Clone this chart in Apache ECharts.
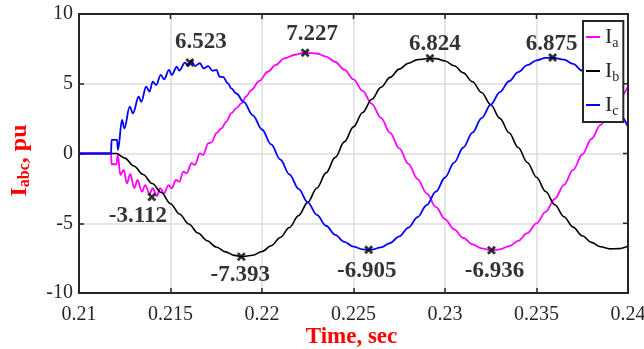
<!DOCTYPE html>
<html>
<head>
<meta charset="utf-8">
<script src="https://cdn.jsdelivr.net/npm/echarts@6/dist/echarts.min.js"></script>
<style>html,body{margin:0;padding:0;background:#fff}#c{width:644px;height:349px}</style>
</head>
<body>
<div id="c"></div>
<script>
const xTicks = [0.21, 0.215, 0.22, 0.225, 0.23, 0.235, 0.24];
const yTicks = [-10, -5, 0, 5, 10];
const seriesNames = ['Ia', 'Ib', 'Ic'];
const xName = 'Time, sec';

const iaData = [[0.21,0],[0.21175,0],[0.21178,-0.77],[0.21204,-0.77],[0.21212,-0.1],[0.21226,-1.54],[0.21244,-1.18],[0.21262,-2.14],[0.2128,-1.47],[0.21302,-2.49],[0.2132,-1.9],[0.21344,-2.74],[0.21362,-2.26],[0.21385,-2.9],[0.21403,-2.49],[0.21425,-3.05],[0.21443,-2.49],[0.21465,-2.85],[0.21489,-2.26],[0.21507,-2.49],[0.2153,-1.9],[0.21548,-2.02],[0.2157,-1.3],[0.21588,-1.42],[0.21615,-0.7],[0.21633,-0.82],[0.2166,0.01],[0.21679,-0.1],[0.21706,0.73],[0.21724,0.8],[0.21751,1.45],[0.21778,1.8],[0.21805,2.28],[0.21832,2.88],[0.2186,3.25],[0.21887,3.6],[0.21914,4.1],[0.21941,4.55],[0.21986,5.2],[0.22031,5.86],[0.22076,6.35],[0.22122,6.82],[0.2218,7.08],[0.22236,7.227],[0.2230,7.17],[0.2235,6.95],[0.2240,6.56],[0.2245,6.01],[0.2250,5.31],[0.2255,4.49],[0.2260,3.56],[0.2265,2.55],[0.2270,1.48],[0.2275,0.37],[0.2280,-0.74],[0.2285,-1.83],[0.2290,-2.86],[0.2295,-3.83],[0.2300,-4.70],[0.2305,-5.44],[0.2310,-6.05],[0.2315,-6.51],[0.2320,-6.80],[0.23254,-6.936],[0.2330,-6.87],[0.2335,-6.65],[0.2340,-6.26],[0.2345,-5.71],[0.2350,-5.01],[0.2355,-4.19],[0.2360,-3.26],[0.2365,-2.25],[0.2370,-1.18],[0.2375,-0.07],[0.2380,1.04],[0.2385,2.05],[0.2390,3.05],[0.2395,3.95],[0.2400,4.8]];

const ibData = [[0.21,0],[0.21205,0],[0.2125,-0.33],[0.2130,-0.9],[0.2135,-1.5],[0.2140,-2.15],[0.2145,-2.8],[0.2150,-3.6],[0.2155,-4.35],[0.2160,-5.05],[0.2165,-5.7],[0.2170,-6.25],[0.2175,-6.7],[0.2180,-7.05],[0.2185,-7.3],[0.21887,-7.393],[0.2195,-7.29],[0.2200,-7.03],[0.2205,-6.61],[0.2210,-6.02],[0.2215,-5.30],[0.2220,-4.45],[0.2225,-3.50],[0.2230,-2.47],[0.2235,-1.39],[0.2240,-0.28],[0.2245,0.83],[0.2250,1.91],[0.2255,2.94],[0.2260,3.89],[0.2265,4.74],[0.2270,5.46],[0.2275,6.05],[0.2280,6.47],[0.2285,6.73],[0.22918,6.824],[0.2295,6.80],[0.2300,6.63],[0.2305,6.29],[0.2310,5.78],[0.2315,5.14],[0.2320,4.37],[0.2325,3.49],[0.2330,2.52],[0.2335,1.49],[0.2340,0.43],[0.2345,-0.64],[0.2350,-1.70],[0.2355,-2.72],[0.2360,-3.67],[0.2365,-4.53],[0.2370,-5.28],[0.2375,-5.90],[0.2380,-6.37],[0.2385,-6.68],[0.2390,-6.84],[0.2395,-6.82],[0.2400,-6.63]];

const icData = [[0.21,0],[0.21175,0],[0.21178,0.97],[0.21208,0.97],[0.21213,0.25],[0.21235,2.4],[0.21248,1.8],[0.21277,3.36],[0.21295,2.88],[0.21326,4.07],[0.2134,3.7],[0.21367,4.79],[0.21385,4.43],[0.21403,5.15],[0.21421,4.91],[0.21447,5.63],[0.21465,5.32],[0.21492,5.99],[0.21507,5.63],[0.21534,6.22],[0.21548,5.94],[0.21579,6.51],[0.21597,6.27],[0.21615,6.65],[0.21633,6.27],[0.2166,6.47],[0.21682,6.1],[0.21706,6.27],[0.21729,5.94],[0.21751,5.99],[0.21769,5.5],[0.21787,5.5],[0.21814,5.03],[0.21832,4.67],[0.2186,4.3],[0.2190,3.70],[0.2195,2.74],[0.2200,1.72],[0.2205,0.65],[0.2210,-0.43],[0.2215,-1.50],[0.2220,-2.54],[0.2225,-3.51],[0.2230,-4.40],[0.2235,-5.18],[0.2240,-5.83],[0.2245,-6.33],[0.2250,-6.68],[0.2255,-6.87],[0.22583,-6.905],[0.2260,-6.89],[0.2265,-6.73],[0.2270,-6.42],[0.2275,-5.94],[0.2280,-5.32],[0.2285,-4.56],[0.2290,-3.70],[0.2295,-2.74],[0.2300,-1.72],[0.2305,-0.65],[0.2310,0.43],[0.2315,1.50],[0.2320,2.54],[0.2325,3.51],[0.2330,4.40],[0.2335,5.18],[0.2340,5.83],[0.2345,6.33],[0.2350,6.68],[0.2355,6.85],[0.23588,6.875],[0.2365,6.73],[0.2370,6.42],[0.2375,5.94],[0.2380,5.32],[0.2385,4.56],[0.2390,3.70],[0.2395,2.85],[0.2400,1.9]];

const markT = [0.21398, 0.21606, 0.21887, 0.22236, 0.22583, 0.22918, 0.23254, 0.23588];
const markV = [-3.112, 6.523, -7.393, 7.227, -6.905, 6.824, -6.936, 6.875];

// label layout (pixel offsets of each data-tip text from its marker)
const labelOffsets = [[-14,19],[11,-20],[-1,18],[7,-19],[-2,21],[5,-14],[3,21],[-1,-14]];

const FF = 'Liberation Serif';
const AX = '#262626';
const fmtX = v => String(parseFloat(v.toFixed(4)));

const chart = echarts.init(document.getElementById('c'), null, {renderer: 'canvas'});
const crossPath = 'path://M0,2.2 L2.2,0 L5,2.8 L7.8,0 L10,2.2 L7.2,5 L10,7.8 L7.8,10 L5,7.2 L2.2,10 L0,7.8 L2.8,5 Z';

const baseAxisLine = {show: true, onZero: false, lineStyle: {color: AX, width: 2}};
const baseTick = {show: true, inside: true, length: 5, lineStyle: {color: AX, width: 1.5}};
const LABEL_MARGIN = 12;

const option = {
  animation: false,
  backgroundColor: '#fff',
  grid: {left: 77, right: 16, top: 14, bottom: 56},
  xAxis: {
    type: 'value', min: xTicks[0], max: xTicks[xTicks.length - 1], interval: 0.005,
    axisLine: baseAxisLine, axisTick: baseTick,
    axisLabel: {fontFamily: FF, fontSize: 20, color: AX, margin: LABEL_MARGIN, formatter: fmtX, showMaxLabel: false},
    splitLine: {show: true, lineStyle: {color: '#dcdcdc', width: 1.5}}
  },
  yAxis: {
    type: 'value', min: yTicks[0], max: yTicks[yTicks.length - 1], interval: 5,
    axisLine: baseAxisLine, axisTick: baseTick,
    axisLabel: {fontFamily: FF, fontSize: 20, color: AX, margin: 6},
    splitLine: {show: true, lineStyle: {color: '#dcdcdc', width: 1.5}},
    name: '{m|I}{s|abc}{m|, pu}', nameLocation: 'middle', nameGap: 46, nameRotate: 90,
    nameTextStyle: {
      padding: [0, 14, 0, 0],
      rich: {
        m: {color: '#ff0000', fontWeight: 'bold', fontSize: 24, fontFamily: FF, lineHeight: 26},
        s: {color: '#ff0000', fontWeight: 'bold', fontSize: 16, fontFamily: FF, lineHeight: 12, verticalAlign: 'bottom'}
      }
    }
  },
  legend: {
    data: seriesNames, orient: 'vertical', left: 583, top: 21, z: 20,
    icon: 'rect', itemWidth: 14, itemHeight: 2, itemGap: 10,
    padding: [5, 4, 4, 3],
    backgroundColor: '#fff', borderColor: AX, borderWidth: 2,
    formatter: n => '{m|I}{s|' + n.slice(1) + '}',
    textStyle: {
      rich: {
        m: {fontFamily: FF, fontSize: 22, color: AX, lineHeight: 26},
        s: {fontFamily: FF, fontSize: 14, color: AX, lineHeight: 10, verticalAlign: 'bottom'}
      }
    }
  },
  series: [
    {name: seriesNames[0], type: 'line', data: iaData, showSymbol: false, smooth: 0.35, smoothMonotone: 'x',
     lineStyle: {color: '#ff00ff', width: 1.8}, itemStyle: {color: '#ff00ff'}, z: 2},
    {name: seriesNames[1], type: 'line', data: ibData, showSymbol: false, smooth: 0.35, smoothMonotone: 'x',
     lineStyle: {color: '#000000', width: 1.6}, itemStyle: {color: '#000000'}, z: 2},
    {name: seriesNames[2], type: 'line', data: icData, showSymbol: false, smooth: 0.35, smoothMonotone: 'x',
     lineStyle: {color: '#0000ff', width: 1.8}, itemStyle: {color: '#0000ff'}, z: 2},
    {name: 'tips', type: 'scatter', symbol: crossPath, symbolSize: 9, z: 10,
     itemStyle: {color: '#000'},
     data: markT.map((t, i) => ({value: [t, markV[i]], label: {offset: labelOffsets[i]}})),
     label: {show: true, position: 'inside', fontFamily: FF, fontWeight: 'bold', fontSize: 23, color: '#000',
             formatter: p => markV[p.dataIndex].toFixed(3)}}
  ]
};
chart.setOption(option);

// plot frame (box on), mirrored inner ticks, last tick label (clipped by page edge) and x-axis title
const xFirst = xTicks[0], xLast = xTicks[xTicks.length - 1];
const pxL = chart.convertToPixel({xAxisIndex: 0}, xFirst);
const pxR = chart.convertToPixel({xAxisIndex: 0}, xLast);
const pxMid = chart.convertToPixel({xAxisIndex: 0}, (xFirst + xLast) / 2);
const pyB = chart.convertToPixel({yAxisIndex: 0}, yTicks[0]);
const pyT = chart.convertToPixel({yAxisIndex: 0}, yTicks[yTicks.length - 1]);
const tickStyle = {stroke: AX, lineWidth: 1.5};
const graphics = [
  {type: 'rect', z: 5, silent: true, shape: {x: pxL, y: pyT, width: pxR - pxL, height: pyB - pyT},
   style: {fill: 'none', stroke: AX, lineWidth: 2}},
  {type: 'text', x: pxR, y: pyB + LABEL_MARGIN, silent: true,
   style: {text: fmtX(xLast), fontFamily: FF, fontSize: 20, fill: AX, align: 'center', verticalAlign: 'top'}},
  {type: 'text', x: pxMid - 2, y: pyB + 44, silent: true,
   style: {text: xName, fontFamily: FF, fontSize: 23, fontWeight: 'bold', fill: '#ff0000', align: 'center', verticalAlign: 'middle'}}
];
xTicks.slice(1, -1).forEach(t => {
  const px = chart.convertToPixel({xAxisIndex: 0}, t);
  graphics.push({type: 'line', z: 5, silent: true, shape: {x1: px, y1: pyT, x2: px, y2: pyT + 5}, style: tickStyle});
});
yTicks.slice(1, -1).forEach(v => {
  const py = chart.convertToPixel({yAxisIndex: 0}, v);
  graphics.push({type: 'line', z: 5, silent: true, shape: {x1: pxR, y1: py, x2: pxR - 5, y2: py}, style: tickStyle});
});
chart.setOption({graphic: graphics});
</script>
</body>
</html>
